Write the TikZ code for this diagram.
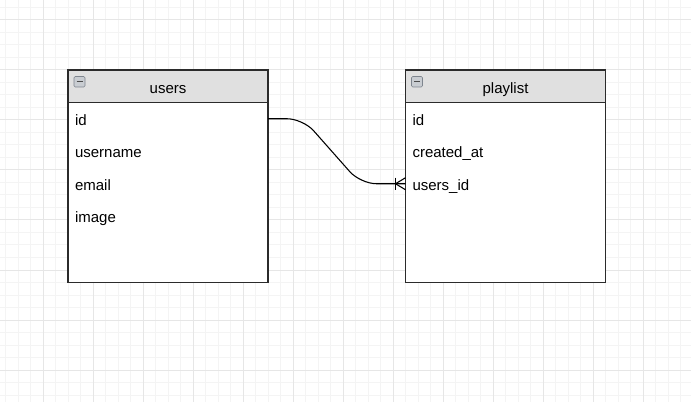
\documentclass[tikz,border=0pt]{standalone}
\usepackage{fontspec}
\setmainfont{Liberation Sans}
\usepackage{tikz}
\usetikzlibrary{positioning, calc}
\definecolor{gridminor}{HTML}{F4F4F4}
\definecolor{gridmajor}{HTML}{E6E6E6}
\definecolor{headfill}{HTML}{E0E0E0}
\definecolor{tableline}{HTML}{2B2B2B}
\definecolor{iconfill}{HTML}{C9CDD2}
\definecolor{iconline}{HTML}{7E858E}

\begin{document}
\begin{tikzpicture}[x=0.75pt, y=-0.75pt,
        every node/.style={font=\fontsize{11.25pt}{13pt}\selectfont, outer sep=0pt},
        tablehead/.style={draw=tableline, fill=headfill, line width=1pt,
          minimum width=150pt, minimum height=24.375pt, inner sep=0pt,
          text height=11.5pt, text depth=0pt},
        tablebody/.style={draw=tableline, fill=white, line width=1pt,
          minimum width=150pt, minimum height=135pt, inner sep=0pt},
        field/.style={minimum width=150pt, minimum height=24.375pt,
          inner xsep=5.25pt, inner ysep=0pt, text width=139.5pt, align=left,
          text height=9.4pt, text depth=0pt},
        relline/.style={draw=black, line width=0.8pt}]
      \useasboundingbox (0,0) rectangle (691,402);
      % grid
      \foreach \x in {5.5,18,...,691} \draw[gridminor, line width=0.75pt] (\x,0) -- (\x,402);
      \foreach \y in {7.5,20,...,402} \draw[gridminor, line width=0.75pt] (0,\y) -- (691,\y);
      \foreach \x in {43,93,...,643} \draw[gridmajor, line width=0.75pt] (\x,0) -- (\x,402);
      \foreach \y in {20,70,...,370} \draw[gridmajor, line width=0.75pt] (0,\y) -- (691,\y);

      % users
      \node[tablehead] (users) at (168,86.25) {users};
      \node[tablebody, below=0pt of users] (usersbody) {};
      \node[field, below=0pt of users] (uid) {id};
      \node[field, below=0pt of uid] (uname) {username};
      \node[field, below=0pt of uname] (umail) {email};
      \node[field, below=0pt of umail] (uimage) {image};

      % playlist
      \node[tablehead] (playlist) at (505.5,86.25) {playlist};
      \node[tablebody, below=0pt of playlist] (playlistbody) {};
      \node[field, below=0pt of playlist] (pid) {id};
      \node[field, below=0pt of pid] (pcreated) {created\_at};
      \node[field, below=0pt of pcreated] (pfk) {users\_id};

      % collapse icons
      \foreach \x in {68,405.5} {
        \draw[iconline, fill=iconfill, rounded corners=1pt] (\x+6,76.5) rectangle (\x+17,87);
        \draw[black!70, line width=1pt] (\x+8.5,81.75) -- (\x+14.5,81.75);
      }

      % relation
      \draw[relline, rounded corners=12pt] (uid.east) -- ++(35,0)
        -- ($(pfk.west)+(-45,0)$) -- (pfk.west);
      \draw[relline] ($(pfk.west)+(-10,0)$) -- ($(pfk.west)+(0,-6)$);
      \draw[relline] ($(pfk.west)+(-10,0)$) -- ($(pfk.west)+(0,6)$);
      \draw[relline] ($(pfk.west)+(-10,-6)$) -- ($(pfk.west)+(-10,6)$);
    \end{tikzpicture}
\end{document}
